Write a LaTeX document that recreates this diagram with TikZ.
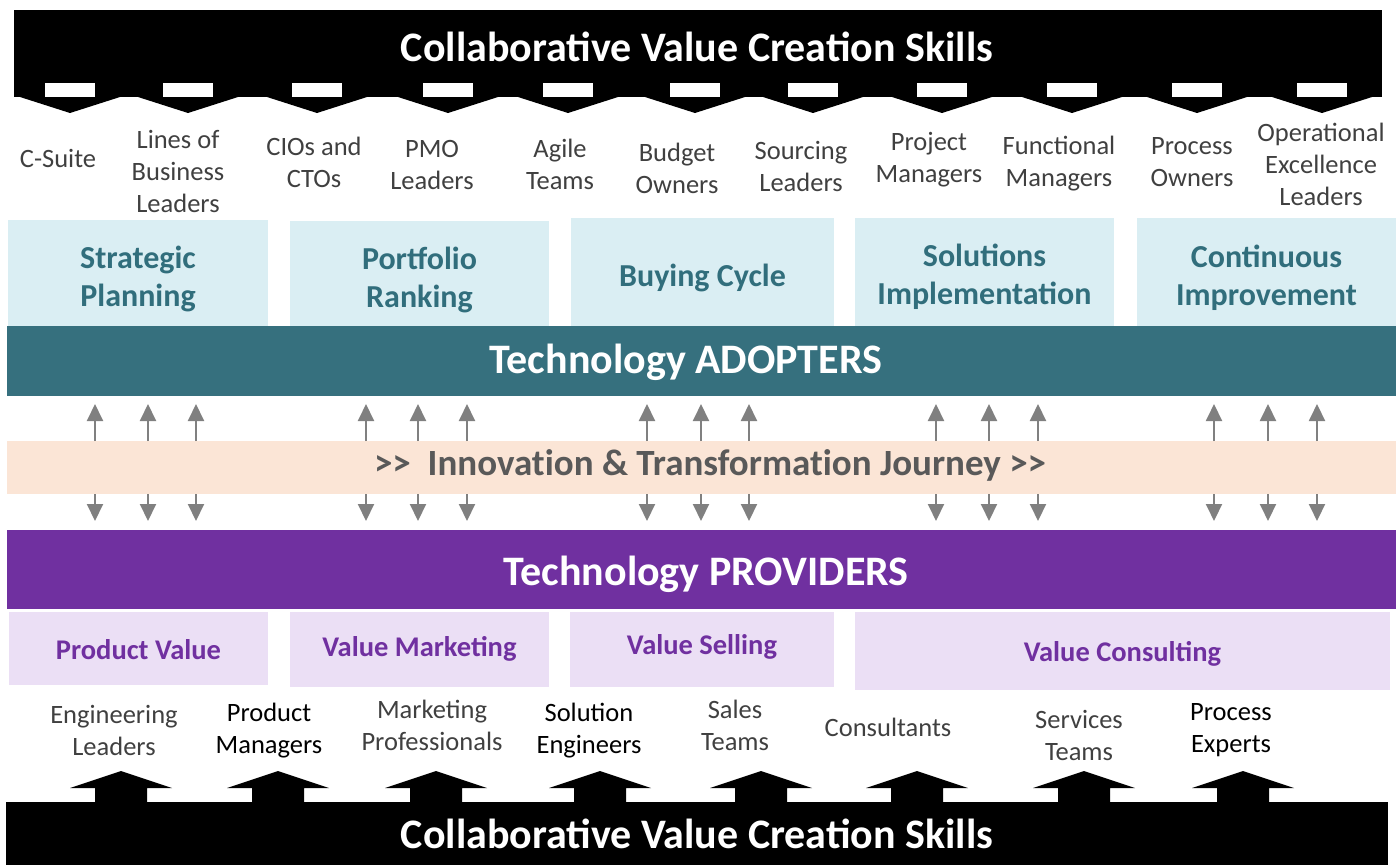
\documentclass[tikz,border=0pt]{standalone}
\usepackage{fontspec}
\setmainfont{Carlito}
\newfontfamily\journeyfont[Ligatures=NoCommon]{Carlito}
\usetikzlibrary{arrows.meta}
\definecolor{adoptC}{RGB}{54,112,126}
\definecolor{adoptTxt}{RGB}{49,110,124}
\definecolor{lightblueC}{HTML}{DAEEF3}
\definecolor{peachC}{HTML}{FBE5D6}
\definecolor{purpC}{HTML}{7030A0}
\definecolor{lavC}{HTML}{EBDFF5}
\definecolor{grayTxt}{HTML}{404040}
\definecolor{journeyTxt}{HTML}{595959}
\definecolor{arrowC}{HTML}{808080}
\newcommand{\gtgt}{>\kern0pt>}
\tikzset{
  titletext/.style={text=white, font=\fontsize{42}{48}\bfseries\selectfont, inner sep=0},
  bandbar/.style={inner sep=0, outer sep=0},
  rolelabel/.style={align=center, text=grayTxt, font=\fontsize{26.5}{32}\selectfont, inner sep=0},
  rolelabelk/.style={align=center, text=black, font=\fontsize{26.5}{32}\selectfont, inner sep=0},
  bluebox/.style={fill=lightblueC, inner sep=0, outer sep=0},
  bluetext/.style={text=adoptTxt, align=center, inner sep=0, font=\fontsize{32}{38}\bfseries\selectfont},
  lavbox/.style={fill=lavC, inner sep=0, outer sep=0},
  lavtext/.style={text=purpC, align=center, inner sep=0, font=\fontsize{28.5}{34}\bfseries\selectfont},
  garrow/.style={draw=arrowC, line width=2pt, -{Triangle[width=16pt,length=17pt]}},
  blockarrow/.style={fill=black}
}
\begin{document}
\begin{tikzpicture}[x=1pt,y=-1pt]
\useasboundingbox (0,0) rectangle (1399,865);

% ---------- top bar ----------
\node[bandbar, fill=black, minimum width=1368, minimum height=87, anchor=north west] (topbar) at (14,10) {};
\node[titletext] (toptitle) at (697,47) {Collaborative Value Creation Skills};
\foreach \t in {70,188,317,448,568,695,813,942,1072,1197,1322}{
  \fill[white] (\t-25,83) rectangle (\t+25,97.6);
  \fill[blockarrow] (\t-50,97) -- (\t+50,97) -- (\t,113) -- cycle;
}

% ---------- adopter roles ----------
\node[rolelabel] (r1) at (58,158) {C-Suite};
\node[rolelabel] (r2) at (178,171) {Lines of\\Business\\Leaders};
\node[rolelabel] (r3) at (314,162) {CIOs and\\CTOs};
\node[rolelabel] (r4) at (432,165) {PMO\\Leaders};
\node[rolelabel] (r5) at (560,164) {Agile\\Teams};
\node[rolelabel] (r6) at (677,168) {Budget\\Owners};
\node[rolelabel] (r7) at (801,166) {Sourcing\\Leaders};
\node[rolelabel] (r8) at (929,160) {Project\\Managers};
\node[rolelabel] (r9) at (1059,164) {Functional\\Managers};
\node[rolelabel] (r10) at (1192,162) {Process\\Owners};
\node[rolelabel] (r11) at (1321,164) {Operational\\Excellence\\Leaders};

% ---------- adopter boxes ----------
\node[bluebox, minimum width=260, minimum height=106] (sp) at (138,273) {};
\node[bluebox, minimum width=259, minimum height=105] (pr) at (419.5,273.5) {};
\node[bluebox, minimum width=263, minimum height=108] (bc) at (702.5,272) {};
\node[bluebox, minimum width=259, minimum height=108] (si) at (984.5,272) {};
\node[bluebox, minimum width=259, minimum height=108] (ci) at (1266.5,272) {};
\node[bluetext] (spt) at (138,279) {Strategic\\Planning};
\node[bluetext] (prt) at (419.5,279.5) {Portfolio\\Ranking};
\node[bluetext] (bct) at (702.5,278) {Buying Cycle};
\node[bluetext] (sit) at (984.5,277) {Solutions\\Implementation};
\node[bluetext] (cit) at (1266.5,277.5) {Continuous\\Improvement};

% ---------- adopters bar ----------
\node[bandbar, fill=adoptC, minimum width=1389, minimum height=70, anchor=north west] (adopt) at (7,326) {};
\node[titletext] (adopttitle) at (686,362) {Technology ADOPTERS};

% ---------- journey band ----------
\node[bandbar, fill=peachC, minimum width=1389, minimum height=53, anchor=north west] (band) at (7,441) {};
\node[text=journeyTxt, font=\journeyfont\fontsize{37}{44}\bfseries\selectfont, inner sep=0] (journey) at (710,465) {\gtgt\ \ Innovation \& Transformation Journey \gtgt};

\foreach \x in {95,148,196,366,418,467,647,701,749,936,989,1038,1214,1268,1317}{
  \coordinate (u\x) at (\x,404);
  \coordinate (d\x) at (\x,521);
  \draw[garrow] (band.north -| u\x) -- (u\x);
  \draw[garrow] (band.south -| d\x) -- (d\x);
}

% ---------- providers bar ----------
\node[bandbar, fill=purpC, minimum width=1389, minimum height=79, anchor=north west] (prov) at (7,530) {};
\node[titletext] (provtitle) at (706,574) {Technology PROVIDERS};

% ---------- provider boxes ----------
\node[lavbox, minimum width=259, minimum height=73] (pv) at (138.5,648.5) {};
\node[lavbox, minimum width=259, minimum height=75] (vm) at (419.5,649.5) {};
\node[lavbox, minimum width=264, minimum height=75] (vsb) at (702,649.5) {};
\node[lavbox, minimum width=535, minimum height=78] (vc) at (1122.5,651) {};
\node[lavtext] (pvt) at (138.5,649.5) {Product Value};
\node[lavtext] (vmt) at (419.5,649) {Value Marketing};
\node[lavtext] (vst) at (702,647) {Value Selling};
\node[lavtext] (vct) at (1122.5,654) {Value Consulting};

% ---------- provider roles ----------
\node[rolelabel] (p1) at (114,730) {Engineering\\Leaders};
\node[rolelabelk] (p2) at (269,731) {Product\\Managers};
\node[rolelabel] (p3) at (432,725) {Marketing\\Professionals};
\node[rolelabelk] (p4) at (589,731) {Solution\\Engineers};
\node[rolelabel] (p5) at (735,725.5) {Sales\\Teams};
\node[rolelabel] (p6) at (888,727) {Consultants};
\node[rolelabel] (p7) at (1079,735) {Services\\Teams};
\node[rolelabelk] (p8) at (1231,730) {Process\\Experts};

% ---------- bottom bar ----------
\node[bandbar, fill=black, minimum width=1382, minimum height=63, anchor=north west] (botbar) at (6,802) {};
\node[titletext] (bottitle) at (697,834) {Collaborative Value Creation Skills};
\foreach \t in {121,278,436,600,761,917,1084,1243}{
  \fill[blockarrow] (\t-26,802.5) -- (\t-26,788) -- (\t-51,788) -- (\t,771) -- (\t+51,788) -- (\t+26,788) -- (\t+26,802.5) -- cycle;
}
\end{tikzpicture}
\end{document}
